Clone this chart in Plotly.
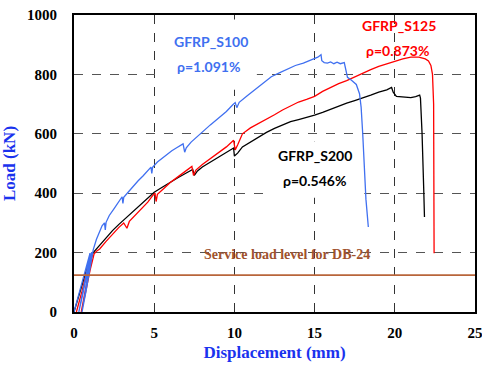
import plotly.graph_objects as go

# GFRP_S100 (rho = 1.091%)
s100_x = [0, 0.3, 0.6, 0.9, 1.0, 0.7, 0.4, 0.3, 0.55, 0.85, 1.05, 1.1, 0.8, 0.55, 0.5, 0.75, 1.0, 1.2,
          1.4, 1.6, 1.75, 1.9, 1.95, 2.0, 2.2, 2.5, 2.8, 3.0, 3.05, 3.1, 3.4, 3.7, 4.0, 4.3, 4.6, 4.8,
          4.85, 4.9, 5.2, 5.5, 5.8, 6.1, 6.4, 6.8, 6.9, 7.0, 7.3, 7.7, 8.0, 8.5, 9.0, 9.5, 9.9, 10.05,
          10.15, 10.3, 10.8, 11.3, 11.8, 12.3, 12.8, 13.3, 13.8, 14.3, 14.8, 15.2, 15.4, 15.45, 15.6,
          15.8, 16.0, 16.2, 16.4, 16.6, 16.85, 16.95, 17.05, 17.3, 17.6, 17.8, 17.9, 18.0, 18.1, 18.2, 18.35]
s100_y = [0, 60, 120, 185, 198, 110, 20, 0, 60, 140, 195, 202, 100, 10, 0, 70, 150, 210,
          245, 270, 290, 300, 276, 302, 325, 348, 372, 388, 366, 386, 405, 425, 442, 458, 475, 488,
          467, 487, 505, 518, 532, 543, 553, 566, 538, 553, 572, 592, 607, 630, 652, 675, 698, 705,
          688, 706, 728, 750, 772, 792, 805, 818, 830, 838, 850, 858, 866, 846, 840,
          838, 842, 836, 841, 836, 840, 812, 790, 780, 766, 735, 690, 600, 480, 380, 286]

# GFRP_S125 (rho = 0.873%)
s125_x = [0.15, 0.5, 0.9, 1.15, 0.8, 0.45, 0.7, 1.0, 1.25, 1.4, 1.6, 2.0, 2.4, 2.8, 3.1, 3.3, 3.45,
          3.8, 4.2, 4.6, 4.9, 5.05, 5.12, 5.2, 5.6, 6.0, 6.6, 7.0, 7.35, 7.45, 7.6, 8.0, 8.5, 9.0, 9.5,
          9.95, 10.05, 10.2, 10.5, 11.0, 11.5, 12.0, 12.5, 13.0, 13.5, 14.0, 14.5, 15.0, 15.5, 16.0,
          16.5, 17.0, 17.5, 18.0, 18.5, 19.0, 19.5, 20.0, 20.5, 21.0, 21.5, 21.9, 22.1, 22.25, 22.35,
          22.42, 22.45, 22.45]
s125_y = [0, 70, 160, 200, 100, 0, 60, 140, 195, 205, 212, 238, 262, 285, 300, 282, 305,
          325, 348, 370, 392, 400, 372, 396, 416, 436, 460, 475, 490, 460, 478, 497, 516, 536, 556,
          578, 546, 562, 600, 620, 634, 650, 664, 680, 694, 707, 716, 726, 743, 757,
          769, 779, 792, 804, 816, 827, 836, 843, 852, 858, 858, 852, 845, 830, 800,
          700, 400, 198]

# GFRP_S200 (rho = 0.546%)
s200_x = [0, 0.4, 0.8, 1.2, 1.6, 2.0, 2.4, 2.8, 3.2, 3.6, 4.0, 4.5, 5.0, 5.5, 6.0, 6.5, 7.0, 7.4, 7.5,
          7.7, 8.0, 8.5, 9.0, 9.5, 9.95, 10.0, 10.2, 10.5, 11.0, 11.5, 12.0, 12.5, 13.0, 13.5, 14.0,
          14.5, 15.0, 15.5, 16.0, 16.5, 17.0, 17.5, 18.0, 18.5, 19.0, 19.5, 19.8, 19.9, 20.1, 20.5,
          21.0, 21.3, 21.55, 21.6, 21.7, 21.8, 21.85]
s200_y = [0, 70, 145, 200, 225, 250, 274, 295, 315, 333, 352, 378, 403, 420, 437, 453, 468, 480, 460,
          475, 488, 505, 520, 536, 552, 525, 535, 556, 573, 590, 605, 618, 630, 641, 648,
          655, 663, 672, 683, 692, 703, 712, 720, 730, 740, 748, 756, 740, 726, 724,
          722, 725, 730, 720, 600, 420, 320]

service_load = 124
x_ticks = [0, 5, 10, 15, 20, 25]
y_ticks = [0, 200, 400, 600, 800, 1000]

BLUE = "#4070f0"
RED = "#ff0000"
BLACK = "#000000"
BROWN = "#b8653a"
SERIF = "Liberation Serif, serif"
SANS = "Lato"

fig = go.Figure()
fig.add_trace(go.Scatter(x=s200_x, y=s200_y, mode="lines", line=dict(color=BLACK, width=1.3)))
fig.add_trace(go.Scatter(x=s125_x, y=s125_y, mode="lines", line=dict(color=RED, width=1.3)))
fig.add_trace(go.Scatter(x=s100_x, y=s100_y, mode="lines", line=dict(color=BLUE, width=1.3)))
fig.add_trace(go.Scatter(x=[0, 25], y=[service_load, service_load], mode="lines",
                         line=dict(color=BROWN, width=1.6)))

# white boxes behind the text labels (cover grid lines)
fig.add_shape(type="rect", x0=5.35, x1=11.4, y0=748, y1=985, layer="between",
              fillcolor="white", line=dict(width=0))
fig.add_shape(type="rect", x0=12.0, x1=18.1, y0=385, y1=575, layer="between",
              fillcolor="white", line=dict(width=0))

def label(x, y, text, color):
    fig.add_annotation(x=x, y=y, text=text, showarrow=False, xanchor="left",
                       font=dict(family=SANS, size=14, color=color, weight="bold"))

label(6.1, 912, "GFRP_S100", BLUE)
label(6.3, 826, "ρ=1.091%", BLUE)
label(17.8, 966, "GFRP_S125", RED)
label(18.05, 880, "ρ=0.873%", RED)
label(12.6, 527, "GFRP_S200", BLACK)
label(12.9, 443, "ρ=0.546%", BLACK)
fig.add_annotation(x=13.3, y=192, text="Service load level for DB-24", showarrow=False,
                   font=dict(family=SERIF, size=14, color="#a0522d", weight="bold"))

fig.update_layout(
    width=482, height=371,
    margin=dict(l=74, r=7, t=15, b=59),
    paper_bgcolor="white", plot_bgcolor="white",
    showlegend=False,
    font=dict(family=SERIF),
)
fig.update_xaxes(
    range=[0, 25], tickvals=x_ticks, ticktext=[str(v) for v in x_ticks], automargin=False,
    tickfont=dict(family=SERIF, size=15, color="black", weight="bold"), ticklabeloverflow="allow",
    showgrid=True, gridcolor="#333", griddash="dash", gridwidth=1,
    showline=True, linecolor="black", linewidth=2, mirror=True,
    zeroline=False, ticks="", ticklabelstandoff=6,
    title=dict(text="Displacement (mm)", font=dict(family=SERIF, size=17, color="#1a33ee", weight="bold"),
               standoff=6),
)
fig.update_yaxes(
    range=[0, 1000], tickvals=y_ticks, ticktext=[str(v) for v in y_ticks], automargin=False,
    tickfont=dict(family=SERIF, size=15, color="black", weight="bold"), ticklabeloverflow="allow",
    showgrid=True, gridcolor="#555", griddash="dash", gridwidth=1,
    showline=True, linecolor="black", linewidth=2, mirror=True,
    zeroline=False, ticks="", ticklabelstandoff=12,
    title=dict(text="Load (kN)", font=dict(family=SERIF, size=17, color="#1a33ee", weight="bold"),
               standoff=8),
)

fig.write_html(
    "out.html",
    config={"displayModeBar": False},
    post_script="document.body.style.margin='0';document.documentElement.style.overflow='hidden';",
)
